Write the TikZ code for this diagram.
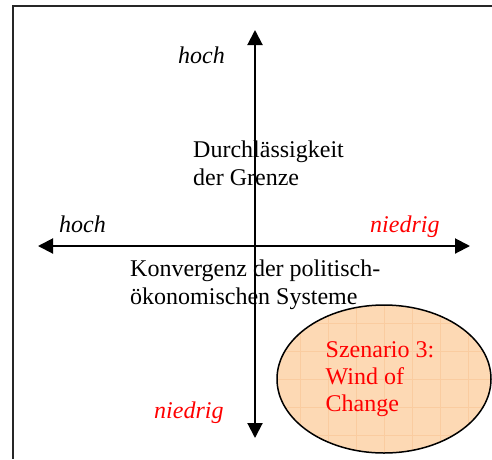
\documentclass[tikz,border=0pt]{standalone}
\usepackage{fontspec}
\setmainfont{Liberation Serif}
\usetikzlibrary{arrows.meta,shapes.geometric}
\definecolor{szenfill}{RGB}{253,217,180}
\definecolor{szengrid}{RGB}{250,204,160}
\definecolor{szenred}{RGB}{255,0,0}
\tikzset{
  achse/.style={line width=2pt,{Triangle[length=15pt,width=15pt]}-{Triangle[length=15pt,width=15pt]}},
  lbl/.style={inner sep=0pt,anchor=base west,align=left,font=\fontsize{24}{28}\selectfont},
  pol/.style={lbl,font=\fontsize{24}{28}\selectfont\itshape},
}
\begin{document}
\begin{tikzpicture}[x=1pt,y=-1pt]
\useasboundingbox (0,0) rectangle (492,459);
\draw[line width=1.3pt,black!85] (492,6) -- (13,6) -- (13,459); % frame
% scenario ellipse
\node[ellipse,draw,line width=1.5pt,fill=szenfill,minimum width=214pt,minimum height=148pt,
  path picture={\draw[szengrid,line width=0.8pt,step=28pt] (path picture bounding box.south west) grid (path picture bounding box.north east);}]
  (szen) at (384,379) {};
\node[text=szenred,font=\fontsize{24}{27}\selectfont,align=left,inner sep=0pt] (szentext) at ([xshift=-4pt]szen.center)
  {Szenario 3:\\Wind of\\Change};
% axes
\coordinate (oben) at (255,30);
\coordinate (unten) at (255,438);
\coordinate (links) at (38,246);
\coordinate (rechts) at (470,246);
\draw[achse] (unten) -- (oben);
\draw[achse] (links) -- (rechts);
% axis texts (base = last line)
\node[lbl] (durch) at (193,185) {Durchlässigkeit\\der Grenze};
\node[lbl] (konv) at (130,304) {Konvergenz der politisch-\\ökonomischen Systeme};
\node[pol] (hochO) at (178,63) {hoch};
\node[pol] (hochL) at (59,232) {hoch};
\node[pol,text=szenred] (niedR) at (370,232) {niedrig};
\node[pol,text=szenred] (niedU) at (154,418) {niedrig};
\end{tikzpicture}
\end{document}
